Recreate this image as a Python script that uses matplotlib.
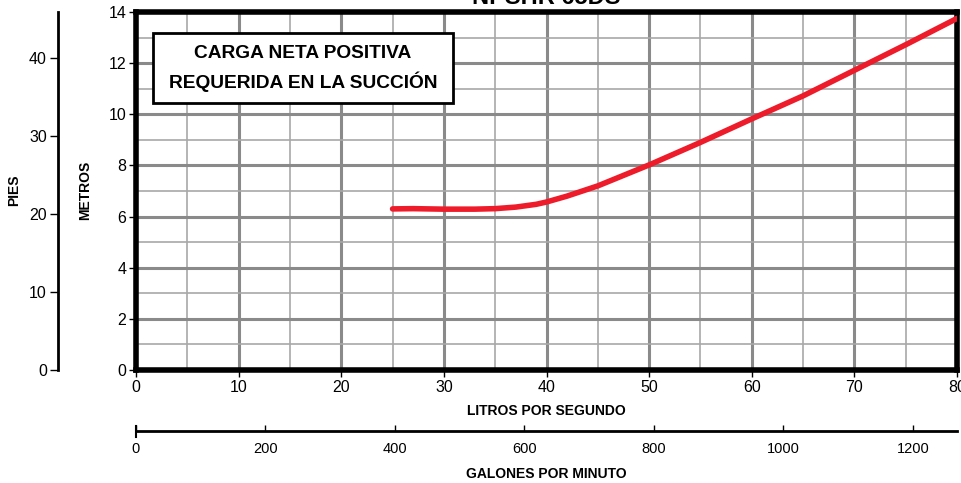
import matplotlib
matplotlib.use("Agg")
import matplotlib.pyplot as plt
from matplotlib.patches import Rectangle
import numpy as np

plt.rcParams['font.family'] = ['Liberation Sans', 'DejaVu Sans']

# Data
flow_lps = [25, 27, 30, 33, 35, 37, 39, 40, 42, 45, 50, 55, 60, 65, 70, 75, 80]
npshr_m = [6.30, 6.31, 6.29, 6.29, 6.31, 6.37, 6.48, 6.57, 6.80, 7.20, 8.02, 8.90, 9.82, 10.72, 11.72, 12.72, 13.75]
title = "NPSHR 65DS"
box_lines = ["CARGA NETA POSITIVA", "REQUERIDA EN LA SUCCIÓN"]
xlabel = "LITROS POR SEGUNDO"
xlabel2 = "GALONES POR MINUTO"
ylabel = "METROS"
ylabel2 = "PIES"
x_ticks = [0, 10, 20, 30, 40, 50, 60, 70, 80]
y_ticks = [0, 2, 4, 6, 8, 10, 12, 14]
gpm_ticks = [0, 200, 400, 600, 800, 1000, 1200]
ft_ticks = [0, 10, 20, 30, 40]

W, H = 961, 483
fig = plt.figure(figsize=(W / 100, H / 100), dpi=100)

def box(l, t, r, b):
    return [l / W, 1 - b / H, (r - l) / W, (b - t) / H]

ax = fig.add_axes(box(136, 12, 957, 370))
ax.set_xlim(0, 80)
ax.set_ylim(0, 14)
ax.set_xticks(x_ticks)
ax.set_yticks(y_ticks)
ax.set_xticks(np.arange(0, 81, 5), minor=True)
ax.set_yticks(np.arange(0, 15, 1), minor=True)
ax.grid(which='major', color='#8a8a8a', lw=2.2)
ax.grid(which='minor', color='#a8a8a8', lw=1.2)
ax.set_axisbelow(True)
for s in ax.spines.values():
    s.set_linewidth(4)
    s.set_color('black')
ax.tick_params(which='major', direction='out', length=5, width=1, labelsize=11.5, pad=2)
ax.tick_params(which='minor', length=0)
ax.plot(flow_lps, npshr_m, color='#ee1c2a', lw=4, solid_capstyle='round', zorder=3)

# Legend-like box
bx0, bx1 = (153 - 136) / 821, (453 - 136) / 821
by0, by1 = (370 - 103) / 358, (370 - 33) / 358
ax.add_patch(Rectangle((bx0, by0), bx1 - bx0, by1 - by0, transform=ax.transAxes,
                       fc='white', ec='black', lw=2, zorder=5))
ax.text((bx0 + bx1) / 2, (370 - 53) / 358, box_lines[0], transform=ax.transAxes,
        fontsize=13.8, fontweight='bold', ha='center', va='center', zorder=6)
ax.text((bx0 + bx1) / 2, (370 - 82) / 358, box_lines[1], transform=ax.transAxes,
        fontsize=13.8, fontweight='bold', ha='center', va='center', zorder=6)

# Feet axis
axf = fig.add_axes(box(58, 12, 59, 370))
axf.set_ylim(0, 14 * 3.28084)
axf.set_yticks(ft_ticks)
axf.set_xticks([])
for k in ['top', 'right', 'bottom']:
    axf.spines[k].set_visible(False)
axf.spines['left'].set_linewidth(2)
axf.patch.set_alpha(0)
axf.tick_params(axis='y', direction='out', length=6, width=1, labelsize=11.5, pad=2)

# GPM axis
axg = fig.add_axes(box(136, 420, 957, 431))
axg.set_xlim(0, 80 * 15.8503)
axg.set_xticks(gpm_ticks)
axg.set_yticks([])
for k in ['top', 'right', 'left']:
    axg.spines[k].set_visible(False)
axg.spines['bottom'].set_linewidth(2)
axg.patch.set_alpha(0)
axg.tick_params(axis='x', direction='in', length=4, width=1, labelsize=10.5, pad=8)
axg.plot([0, 0], [-0.5, 0.5], color='black', lw=1.5, clip_on=False, transform=axg.get_xaxis_transform())

lbl = dict(fontsize=10, fontweight='bold', ha='center', va='center')
fig.text(546 / W, 1 - 411 / H, xlabel, **lbl)
fig.text(546 / W, 1 - 474 / H, xlabel2, **lbl)
fig.text(85 / W, 1 - 190 / H, ylabel, rotation=90, **lbl)
fig.text(14 / W, 1 - 190 / H, ylabel2, rotation=90, **lbl)

fig.text(546 / W, 1 - 4 / H, title, ha='center', va='baseline', fontsize=17, fontweight='bold')

fig.savefig('out.png', dpi=100)
